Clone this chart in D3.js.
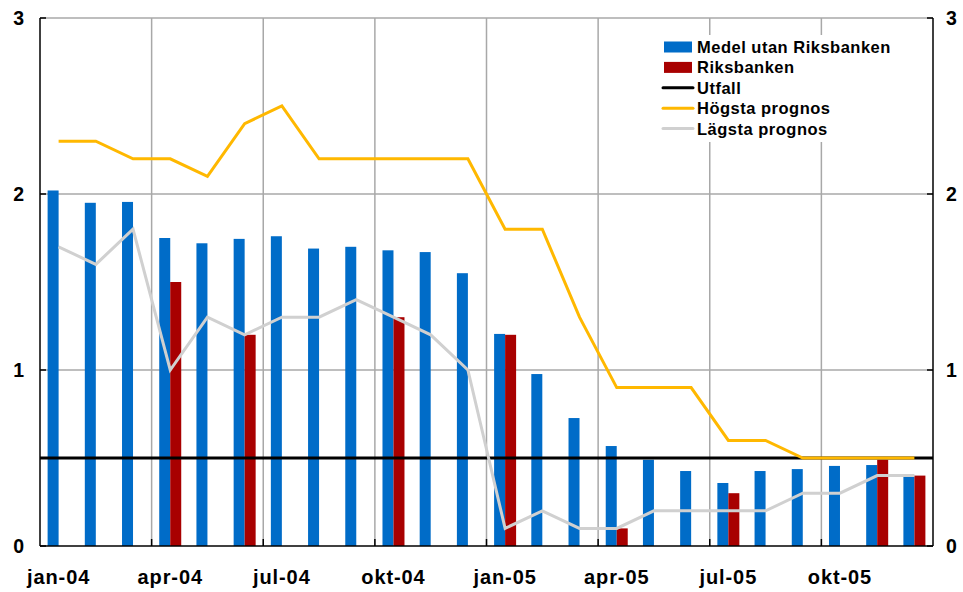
<!DOCTYPE html>
<html>
<head>
<meta charset="utf-8">
<script src="https://cdn.jsdelivr.net/npm/d3@7"></script>
<style>
  body { margin: 0; background: #fff; }
  svg { display: block; font-family: Arial, "Liberation Sans", sans-serif; }
</style>
</head>
<body>
<div id="chart"></div>
<script>
const canvas = { w: 963, h: 592 };
const margin = { top: 18, right: 30, bottom: 46, left: 40 };

// data
const months = ["jan-04","feb-04","mar-04","apr-04","maj-04","jun-04","jul-04","aug-04","sep-04","okt-04","nov-04","dec-04",
                "jan-05","feb-05","mar-05","apr-05","maj-05","jun-05","jul-05","aug-05","sep-05","okt-05","nov-05","dec-05"];
const tickMonths = ["jan-04","apr-04","jul-04","okt-04","jan-05","apr-05","jul-05","okt-05"];
const medel = [2.02,1.95,1.955,1.75,1.72,1.745,1.76,1.69,1.70,1.68,1.67,1.55,
               1.205,0.977,0.727,0.568,0.49,0.426,0.358,0.426,0.437,0.455,0.46,0.40];
const riksbanken = [null,null,null,1.5,null,1.2,null,null,null,1.3,null,null,
                    1.2,null,null,0.1,null,null,0.3,null,null,null,0.49,0.4];
const utfall = 0.5;
const hogsta = [2.3,2.3,2.2,2.2,2.1,2.4,2.5,2.2,2.2,2.2,2.2,2.2,
                1.8,1.8,1.3,0.9,0.9,0.9,0.6,0.6,0.5,0.5,0.5,0.5];
const lagsta = [1.7,1.6,1.8,1.0,1.3,1.2,1.3,1.3,1.4,1.3,1.2,1.0,
                0.1,0.2,0.1,0.1,0.2,0.2,0.2,0.2,0.3,0.3,0.4,0.4];
const yTicks = [0,1,2,3];
const legendItems = [
  { name: "Medel utan Riksbanken", type: "rect", color: "#006CC8" },
  { name: "Riksbanken", type: "rect", color: "#A80000" },
  { name: "Utfall", type: "line", color: "#000000" },
  { name: "Högsta prognos", type: "line", color: "#FFB800" },
  { name: "Lägsta prognos", type: "line", color: "#D0D0D0" }
];

const x0 = margin.left, x1 = canvas.w - margin.right;
const yBottom = canvas.h - margin.bottom;

const x = d3.scaleBand().domain(months).range([x0, x1]).padding(0);
const bw = x.bandwidth();
const xSub = d3.scaleBand().domain(["medel","riks"]).range([bw/2 - 11, bw/2 + 11]);
const y = d3.scaleLinear().domain([0, 3]).range([yBottom, margin.top]);

const svg = d3.select("#chart").append("svg")
    .attr("width", canvas.w).attr("height", canvas.h)
    .attr("viewBox", `0 0 ${canvas.w} ${canvas.h}`);

// grid
const grid = svg.append("g").attr("stroke", "#a8a8a8").attr("stroke-width", 1.5);
grid.selectAll("line.h").data(yTicks.filter(d => d > 0)).join("line")
    .attr("x1", x0).attr("x2", x1)
    .attr("y1", d => y(d)).attr("y2", d => y(d));
grid.selectAll("line.v").data(tickMonths.slice(1)).join("line")
    .attr("x1", d => x(d)).attr("x2", d => x(d))
    .attr("y1", margin.top).attr("y2", yBottom);

// legend background
svg.append("rect").attr("x", 655).attr("y", 35).attr("width", 245).attr("height", 107).attr("fill", "#fff");

// bars
svg.append("g").selectAll("rect").data(months).join("rect")
    .attr("x", d => x(d) + xSub("medel"))
    .attr("width", xSub.bandwidth())
    .attr("y", (d, i) => y(medel[i]))
    .attr("height", (d, i) => yBottom - y(medel[i]))
    .attr("fill", "#006CC8");
svg.append("g").selectAll("rect").data(months.filter((d, i) => riksbanken[i] != null)).join("rect")
    .attr("x", d => x(d) + xSub("riks"))
    .attr("width", xSub.bandwidth())
    .attr("y", d => y(riksbanken[months.indexOf(d)]))
    .attr("height", d => yBottom - y(riksbanken[months.indexOf(d)]))
    .attr("fill", "#A80000");

// utfall
svg.append("line").attr("x1", x0).attr("x2", x1)
    .attr("y1", y(utfall)).attr("y2", y(utfall))
    .attr("stroke", "#000").attr("stroke-width", 3);

const line = d3.line().x((d, i) => x(months[i]) + bw/2).y(d => y(d));
svg.append("path").datum(lagsta).attr("d", line)
    .attr("fill", "none").attr("stroke", "#D0D0D0").attr("stroke-width", 3);
svg.append("path").datum(hogsta).attr("d", line)
    .attr("fill", "none").attr("stroke", "#FFB800").attr("stroke-width", 3);

// axes
const axes = svg.append("g").attr("stroke", "#000").attr("stroke-width", 1.5);
axes.append("line").attr("x1", x0).attr("x2", x0).attr("y1", margin.top).attr("y2", yBottom);
axes.append("line").attr("x1", x1).attr("x2", x1).attr("y1", margin.top).attr("y2", yBottom);
axes.append("line").attr("x1", x0).attr("x2", x1).attr("y1", yBottom).attr("y2", yBottom);
axes.selectAll("line.ly").data(yTicks).join("line")
    .attr("x1", x0).attr("x2", x0 + 6).attr("y1", d => y(d)).attr("y2", d => y(d));
axes.selectAll("line.ry").data(yTicks).join("line")
    .attr("x1", x1 - 6).attr("x2", x1).attr("y1", d => y(d)).attr("y2", d => y(d));
axes.selectAll("line.bx").data(tickMonths.slice(1)).join("line")
    .attr("x1", d => x(d)).attr("x2", d => x(d)).attr("y1", yBottom).attr("y2", yBottom - 7);

const lbl = svg.append("g").attr("font-weight", "bold").attr("font-size", 19.5).attr("fill", "#000");
lbl.selectAll("text.l").data(yTicks).join("text")
    .attr("x", 24).attr("y", d => y(d)).attr("dy", "0.35em")
    .attr("text-anchor", "end").text(d => d);
lbl.selectAll("text.r").data(yTicks).join("text")
    .attr("x", 946).attr("y", d => y(d)).attr("dy", "0.35em")
    .attr("text-anchor", "start").text(d => d);
lbl.selectAll("text.x").data(tickMonths).join("text")
    .attr("x", d => x(d) + bw/2).attr("y", 584)
    .attr("font-size", 20).attr("letter-spacing", 0.9)
    .attr("text-anchor", "middle").text(d => d);

// legend
const lg = svg.append("g").attr("transform", "translate(663,47)");
const item = lg.selectAll("g").data(legendItems).join("g")
    .attr("transform", (d, i) => `translate(0,${i * 20.4})`);
item.filter(d => d.type === "rect").append("rect")
    .attr("x", 1).attr("y", -5.5).attr("width", 28).attr("height", 11).attr("fill", d => d.color);
item.filter(d => d.type === "line").append("line")
    .attr("x1", 0).attr("x2", 30).attr("y1", 0).attr("y2", 0)
    .attr("stroke", d => d.color).attr("stroke-width", 3).attr("stroke-linecap", "round");
item.append("text").attr("x", 34).attr("dy", "0.36em")
    .attr("font-size", 16.5).attr("letter-spacing", 0.5)
    .attr("font-weight", "bold").text(d => d.name);
</script>
</body>
</html>
